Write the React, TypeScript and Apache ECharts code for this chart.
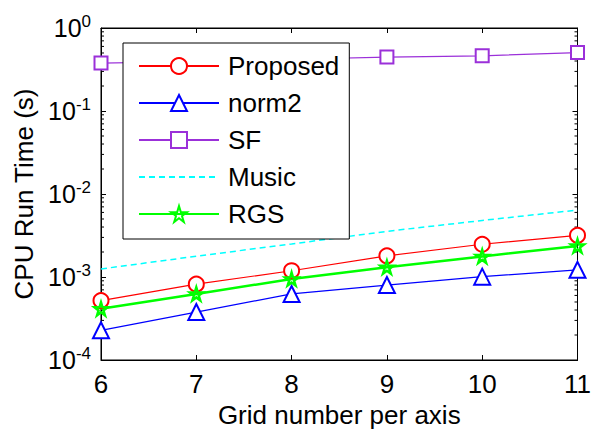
import React, { useEffect, useRef } from "react";
import * as echarts from "echarts";

const categories = [6, 7, 8, 9, 10, 11];
const proposed = [5.2e-4, 8.2e-4, 1.19e-3, 1.8e-3, 2.48e-3, 3.18e-3];
const norm2 = [2.28e-4, 3.78e-4, 6.25e-4, 8.0e-4, 1.01e-3, 1.22e-3];
const sf = [0.378, 0.395, 0.42, 0.446, 0.462, 0.506];
const music = [1.25e-3, 1.78e-3, 2.5e-3, 3.55e-3, 4.8e-3, 6.4e-3];
const rgs = [4.14e-4, 6.25e-4, 9.46e-4, 1.31e-3, 1.77e-3, 2.37e-3];
const seriesNames = ["Proposed", "norm2", "SF", "Music", "RGS"];
const decades = [1e-4, 1e-3, 1e-2, 1e-1];
const minorMultipliers = [2, 3, 4, 5, 6, 7, 8, 9];

const FONT = "Liberation Sans, Arial, Helvetica, sans-serif";
const FS = 26;
const STAR =
  "path://M50,0 L61,35 L98,35 L68,57 L79,91 L50,70 L21,91 L32,57 L2,35 L39,35 Z";

const pairs = (vals: number[]) => categories.map((x, i) => [x, vals[i]]);

export default function App() {
  const ref = useRef<HTMLDivElement>(null);
  useEffect(() => {
    if (!ref.current) return;
    const chart = echarts.init(ref.current, undefined, { renderer: "svg" });
    const minorTicks: number[][] = [];
    decades.forEach((d) =>
      minorMultipliers.forEach((m) => minorTicks.push([categories[0], d * m]))
    );
    const xMin = categories[0];
    const xMax = categories[categories.length - 1];
    const axisLine = { show: true, lineStyle: { color: "#000", width: 1 } };
    const tick = { show: true, inside: true, length: 5, lineStyle: { color: "#000" } };
    const option: any = {
      animation: false,
      backgroundColor: "#fff",
      grid: {
        left: 101,
        right: 12,
        top: 28,
        bottom: 71,
        show: true,
        borderColor: "#000",
        borderWidth: 1,
        backgroundColor: "#fff",
      },
      legend: {
        data: seriesNames,
        orient: "vertical",
        left: 123,
        top: 43,
        itemWidth: 80,
        itemHeight: 20,
        itemGap: 11,
        padding: [10, 10, 12, 15],
        backgroundColor: "#fff",
        borderColor: "#000",
        borderWidth: 1,
        borderRadius: 0,
        textStyle: {
          fontFamily: FONT,
          fontSize: FS,
          color: "#000",
          padding: [0, 0, 0, 4],
        },
      },
      xAxis: [
        {
          type: "value",
          min: xMin,
          max: xMax,
          interval: 1,
          name: "Grid number per axis",
          nameLocation: "middle",
          nameGap: 42,
          nameTextStyle: { fontFamily: FONT, fontSize: FS, color: "#000" },
          axisLine,
          axisTick: tick,
          axisLabel: { fontFamily: FONT, fontSize: FS, color: "#000", margin: 11 },
          splitLine: { show: false },
        },
        {
          type: "value",
          position: "top",
          min: xMin,
          max: xMax,
          interval: 1,
          axisLine,
          axisTick: tick,
          axisLabel: { show: false },
          splitLine: { show: false },
        },
      ],
      yAxis: [
        {
          type: "log",
          logBase: 10,
          min: 1e-4,
          max: 1,
          interval: 1,
          name: "CPU Run Time (s)",
          nameLocation: "middle",
          nameGap: 61,
          nameTextStyle: { fontFamily: FONT, fontSize: FS, color: "#000" },
          axisLine,
          axisTick: tick,
          axisLabel: {
            margin: 10,
            formatter: (v: number) => `{b|10}{s|${Math.round(Math.log10(v))}}`,
            rich: {
              b: { fontFamily: FONT, fontSize: 25, color: "#000", lineHeight: 30 },
              s: {
                fontFamily: FONT,
                fontSize: 17,
                color: "#000",
                lineHeight: 10,
                verticalAlign: "top",
              },
            },
          },
          splitLine: { show: false },
        },
        {
          type: "log",
          logBase: 10,
          min: 1e-4,
          max: 1,
          interval: 1,
          position: "right",
          axisLine,
          axisTick: tick,
          axisLabel: { show: false },
          splitLine: { show: false },
        },
      ],
      series: [
        {
          type: "custom",
          name: "minorTicks",
          silent: true,
          xAxisIndex: 0,
          yAxisIndex: 0,
          data: minorTicks,
          z: 1,
          renderItem: (params: any, api: any) => {
            const v = api.value(1);
            const pl = api.coord([xMin, v]);
            const pr = api.coord([xMax, v]);
            return {
              type: "group",
              children: [
                {
                  type: "line",
                  shape: { x1: pl[0], y1: pl[1], x2: pl[0] + 3, y2: pl[1] },
                  style: { stroke: "#000", lineWidth: 1 },
                },
                {
                  type: "line",
                  shape: { x1: pr[0], y1: pr[1], x2: pr[0] - 3, y2: pr[1] },
                  style: { stroke: "#000", lineWidth: 1 },
                },
              ],
            };
          },
        },
        {
          name: "Proposed",
          type: "line",
          data: pairs(proposed),
          symbol: "emptyCircle",
          symbolSize: 15,
          lineStyle: { color: "#ff0000", width: 1.2 },
          itemStyle: { color: "#ff0000", borderWidth: 1.2 },
          z: 3,
        },
        {
          name: "norm2",
          type: "line",
          data: pairs(norm2),
          symbol: "emptyTriangle",
          symbolSize: 16,
          lineStyle: { color: "#0000ff", width: 1.2 },
          itemStyle: { color: "#0000ff", borderWidth: 1.2 },
          z: 3,
        },
        {
          name: "SF",
          type: "line",
          data: pairs(sf),
          symbol: "emptyRect",
          symbolSize: 13,
          lineStyle: { color: "#9b30d9", width: 1.2 },
          itemStyle: { color: "#9b30d9", borderWidth: 1.2 },
          z: 3,
        },
        {
          name: "Music",
          type: "line",
          data: pairs(music),
          symbol: "none",
          lineStyle: { color: "#00ffff", width: 1.5, type: [6, 4] },
          itemStyle: { color: "rgba(0,0,0,0)", borderColor: "rgba(0,0,0,0)" },
          z: 3,
        },
        {
          name: "RGS",
          type: "line",
          data: pairs(rgs),
          symbol: STAR,
          symbolSize: 13,
          lineStyle: { color: "#00ff00", width: 2.5 },
          itemStyle: { color: "rgba(0,0,0,0)", borderColor: "#00ff00", borderWidth: 2.5 },
          z: 3,
        },
      ],
    };
    chart.setOption(option);
    return () => chart.dispose();
  }, []);
  return (
    <div
      ref={ref}
      style={{ position: "fixed", left: 0, top: 0, width: 594, height: 433 }}
    />
  );
}
